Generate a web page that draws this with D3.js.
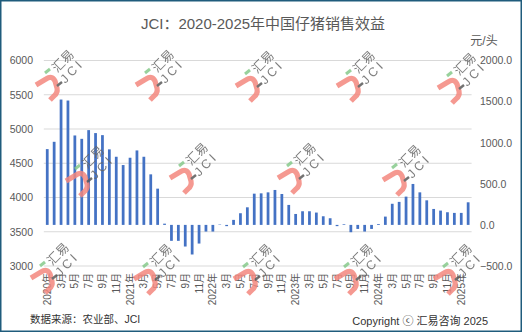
<!DOCTYPE html>
<html><head><meta charset="utf-8">
<script src="https://cdn.jsdelivr.net/npm/d3@7/dist/d3.min.js"></script>
<style>
html,body{margin:0;padding:0;background:#fff;}
svg{display:block;font-family:"Liberation Sans","Noto Sans CJK SC",sans-serif;}
</style></head>
<body><svg id="c" width="525" height="333"></svg>
<script>
// ---- data ----
const categories = [
"2020-01","2020-02","2020-03","2020-04","2020-05","2020-06","2020-07","2020-08","2020-09","2020-10","2020-11","2020-12",
"2021-01","2021-02","2021-03","2021-04","2021-05","2021-06","2021-07","2021-08","2021-09","2021-10","2021-11","2021-12",
"2022-01","2022-02","2022-03","2022-04","2022-05","2022-06","2022-07","2022-08","2022-09","2022-10","2022-11","2022-12",
"2023-01","2023-02","2023-03","2023-04","2023-05","2023-06","2023-07","2023-08","2023-09","2023-10","2023-11","2023-12",
"2024-01","2024-02","2024-03","2024-04","2024-05","2024-06","2024-07","2024-08","2024-09","2024-10","2024-11","2024-12",
"2025-01","2025-02"];
const profit = [
922,1011,1525,1513,1088,1047,1153,1117,1092,919,829,728,
817,906,829,615,441,15,-194,-194,-263,-360,-227,-81,
-81,5,-15,61,142,214,380,384,396,425,376,243,
133,166,166,150,105,81,-15,8,-89,-49,-81,-49,
10,101,257,280,344,498,396,299,194,174,154,146,
146,275];
const leftTicks = [3000,3500,4000,4500,5000,5500,6000];
const rightTicks = [-500,0,500,1000,1500,2000];
const titleText = "JCI：2020-2025年中国仔猪销售效益";
const unitText = "元/头";
const sourceText = "数据来源：农业部、JCI";
const copyText = "Copyright ⓒ 汇易咨询 2025";

function tickLabel(c){
  const [y,m] = c.split("-").map(Number);
  if (m === 1) return y + "年";
  if (m % 2 === 1) return m + "月";
  return null;
}

// ---- layout ----
const svg = d3.select("#c");
const X0 = 43.8, X1 = 471.6, YT = 60.5, YB = 266;
const txt = "#595959";

svg.append("rect").attr("x",0.75).attr("y",0.75).attr("width",520.5).attr("height",330.5)
  .attr("fill","#fff").attr("stroke","#1F5C7C").attr("stroke-width",1.5);

const x = d3.scaleBand().domain(categories).range([X0,X1]).paddingInner(0.6).paddingOuter(0.3);
const yL = d3.scaleLinear().domain([3000,6000]).range([YB,YT]);
const yR = d3.scaleLinear().domain([-500,2000]).range([YB,YT]);

// gridlines
svg.append("g").selectAll("line").data(leftTicks).join("line")
  .attr("x1",X0).attr("x2",X1).attr("y1",d=>yL(d)).attr("y2",d=>yL(d))
  .attr("stroke","#D9D9D9").attr("stroke-width",1);

// left axis
const axL = d3.axisLeft(yL).tickValues(leftTicks).tickSize(0).tickPadding(0).tickFormat(d3.format("d"));
const gL = svg.append("g").attr("transform","translate(33,0)").call(axL);
gL.select(".domain").remove();
gL.selectAll("text").attr("fill",txt).attr("font-size",10.5);

// right axis
const axR = d3.axisRight(yR).tickValues(rightTicks).tickSize(0).tickPadding(0).tickFormat(d3.format(".1f"));
const gR = svg.append("g").attr("transform","translate(480,0)").call(axR);
gR.select(".domain").remove();
gR.selectAll("text").attr("fill",txt).attr("font-size",10.5);

// bars
svg.append("g").selectAll("rect").data(categories).join("rect")
  .attr("x",c=>x(c)).attr("width",x.bandwidth())
  .attr("y",(c,i)=>yR(Math.max(0,profit[i])))
  .attr("height",(c,i)=>Math.abs(yR(profit[i])-yR(0)))
  .attr("fill","#4472C4");

// x labels
const xl = svg.append("g");
categories.forEach(c=>{
  const t = tickLabel(c);
  if (!t) return;
  xl.append("text").text(t)
    .attr("transform",`translate(${x(c)+x.bandwidth()/2+3.5},273) rotate(-90)`)
    .attr("text-anchor","end").attr("font-size",10).attr("fill",txt);
});

// titles
svg.append("text").text(titleText).attr("x",263).attr("y",29).attr("text-anchor","middle")
  .attr("font-size",15).attr("fill",txt);
svg.append("text").text(unitText).attr("x",484).attr("y",45).attr("text-anchor","middle")
  .attr("font-size",12).attr("fill",txt);
svg.append("text").text(sourceText).attr("x",30).attr("y",323)
  .attr("font-size",10.5).attr("fill","#333");
svg.append("text").text(copyText).attr("x",488).attr("y",325).attr("text-anchor","end")
  .attr("font-size",11).attr("fill","#333");

// watermarks
const marks = [[35,72],[135,72],[235,73],[336,73],[437,75],
               [65,168],[169,165],[277,165],[382,167],
               [30,265],[133,266],[233,266],[334,266],[433,266]];
const wm = svg.append("g").attr("opacity",0.85);
marks.forEach(([mx,my])=>{
  const g = wm.append("g").attr("transform",`translate(${mx},${my})`);
  g.append("path").attr("d","M1,13 L11,7 Q17,3 20,9 L22,16 Q23,21 19,24 L15,28")
    .attr("fill","none").attr("stroke","#F4877E").attr("stroke-width",5.2);
  g.append("line").attr("x1",10).attr("y1",1).attr("x2",15).attr("y2",-3)
    .attr("stroke","#86C98B").attr("stroke-width",3);
  g.append("line").attr("x1",22).attr("y1",14).attr("x2",27).attr("y2",10)
    .attr("stroke","#595959").attr("stroke-width",2.5);
  g.append("text").text("汇易").attr("transform","translate(28,-11) rotate(-45)")
    .attr("text-anchor","middle").attr("dy","0.35em").attr("font-size",12.5).attr("fill","#666");
  g.append("text").text("JCI").attr("transform","translate(37,-1) rotate(-45)")
    .attr("text-anchor","middle").attr("dy","0.35em").attr("font-size",12.5)
    .attr("letter-spacing",3).attr("fill","#666");
});
</script></body></html>
